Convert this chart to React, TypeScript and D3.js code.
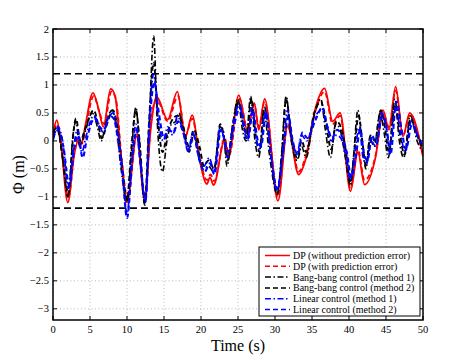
import React from "react";
import * as d3 from "d3";

const W = 461, H = 363;
const M = { left: 53, right: 423, top: 29, bottom: 320 };

const xTicks = [0, 5, 10, 15, 20, 25, 30, 35, 40, 45, 50];
const yTicks = [-3, -2.5, -2, -1.5, -1, -0.5, 0, 0.5, 1, 1.5, 2];
const limits = [1.2, -1.2];

const dpNoErr: [number, number][] = [[0,0.1],[0.5,0.37],[1,0.05],[2.0,-1.1],[2.9,-0.22],[3.4,0.0],[3.8,-0.07],[4.4,0.3],[5.4,0.86],[6.2,0.55],[6.8,0.25],[7.8,0.93],[8.4,0.8],[9.2,-0.3],[10.0,-1.1],[11.3,0.08],[12.4,-1.05],[13.2,0.2],[14.0,0.79],[15.5,0.38],[16.8,0.88],[17.9,0.08],[18.8,0.46],[19.9,-0.4],[20.8,-0.77],[21.2,-0.65],[21.7,-0.79],[23.2,0.02],[23.7,-0.3],[25.1,0.82],[26.3,0.17],[27.2,0.68],[27.8,0.2],[28.6,0.75],[30.4,-1.07],[31.7,0.26],[33.2,-0.6],[34.2,-0.3],[35.5,0.6],[36.7,0.94],[37.8,0.35],[38.8,0.5],[40.2,-0.9],[41.2,-0.2],[42.1,-0.78],[43.6,-0.28],[44.6,0.55],[45.4,0.2],[46.3,0.97],[47.3,0.08],[48.2,0.5],[50,-0.28]];
const dpErr: [number, number][] = [[0,0.05],[0.5,0.3],[1,0.0],[2.1,-1.0],[2.9,-0.2],[3.5,0.05],[3.9,-0.05],[4.5,0.3],[5.5,0.8],[6.3,0.5],[6.9,0.3],[7.9,0.88],[8.5,0.75],[9.3,-0.35],[10.1,-1.05],[11.3,0.15],[12.4,-1.0],[13.2,0.3],[14.0,0.75],[15.5,0.35],[16.9,0.8],[17.9,0.1],[18.8,0.4],[19.9,-0.35],[20.8,-0.7],[21.3,-0.6],[21.8,-0.72],[23.2,0.05],[23.8,-0.25],[25.2,0.75],[26.3,0.2],[27.2,0.65],[27.8,0.25],[28.6,0.7],[30.4,-1.0],[31.7,0.3],[33.2,-0.55],[34.2,-0.25],[35.5,0.55],[36.7,0.88],[37.8,0.3],[38.8,0.45],[40.2,-0.85],[41.2,-0.15],[42.1,-0.7],[43.6,-0.25],[44.6,0.5],[45.4,0.25],[46.3,0.9],[47.3,0.1],[48.2,0.45],[50,-0.25]];
const bang1: [number, number][] = [[0,0.15],[0.6,0.25],[1.2,-0.2],[2.0,-1.0],[2.7,0.1],[3.1,0.35],[3.6,-0.1],[4.2,0.1],[5.3,0.5],[6.0,0.25],[6.5,0.0],[7.2,0.35],[8.0,0.55],[8.6,0.2],[9.2,-0.5],[10.0,-1.1],[10.6,-0.2],[11.2,0.6],[11.6,0.1],[12.4,-1.15],[13.0,0.3],[13.6,1.88],[14.1,0.3],[14.8,-0.55],[15.4,0.0],[16.0,0.3],[16.6,0.35],[17.0,0.5],[17.6,0.2],[18.4,-0.2],[19.0,0.1],[19.7,-0.2],[20.3,-0.5],[21.0,-0.45],[21.7,-0.55],[22.6,0.25],[23.0,0.2],[23.5,-0.45],[24.2,0.2],[25.0,0.75],[25.6,0.2],[26.1,0.0],[26.7,0.8],[27.3,0.0],[27.8,-0.3],[28.5,0.55],[29.2,-0.2],[30.3,-0.95],[30.9,-0.2],[31.5,0.8],[32.2,0.0],[33.0,-0.35],[33.6,-0.1],[34.2,-0.3],[35.2,0.4],[36.2,0.75],[36.8,0.2],[37.5,-0.3],[38.2,0.3],[38.8,0.2],[39.5,-0.3],[40.2,-0.8],[40.6,-0.3],[41.2,0.55],[41.8,-0.1],[42.3,-0.5],[42.8,0.05],[43.4,-0.1],[44.2,0.5],[44.8,0.1],[45.3,-0.3],[46.2,0.75],[46.8,0.0],[47.4,-0.3],[48.3,0.45],[49.2,0.0],[50,-0.2]];
const bang2: [number, number][] = [[0,0.1],[0.6,0.2],[1.3,-0.3],[2.1,-0.95],[2.8,0.2],[3.1,0.4],[3.7,0.0],[4.3,0.2],[5.5,0.55],[6.1,0.3],[6.6,0.05],[7.3,0.3],[8.1,0.55],[8.7,0.25],[9.3,-0.4],[10.0,-1.05],[10.6,-0.1],[11.2,0.55],[11.7,0.0],[12.4,-1.1],[13.0,0.4],[13.6,1.4],[14.2,0.35],[14.8,-0.2],[15.4,0.1],[16.0,0.35],[16.8,0.45],[17.5,0.3],[18.4,-0.1],[19.0,0.2],[19.8,-0.1],[20.4,-0.45],[21.0,-0.35],[21.8,-0.5],[22.6,0.3],[23.0,0.15],[23.6,-0.35],[24.3,0.3],[25.1,0.7],[25.7,0.3],[26.2,0.1],[26.8,0.75],[27.4,0.1],[27.9,-0.2],[28.6,0.6],[29.3,-0.1],[30.3,-0.95],[30.9,-0.3],[31.5,0.75],[32.2,0.1],[33.0,-0.3],[33.6,0.0],[34.2,-0.2],[35.3,0.5],[36.2,0.7],[36.9,0.3],[37.6,-0.15],[38.3,0.35],[38.9,0.25],[39.6,-0.2],[40.2,-0.75],[40.7,-0.2],[41.3,0.45],[41.8,0.0],[42.3,-0.45],[42.9,0.1],[43.5,0.0],[44.3,0.55],[44.9,0.2],[45.4,-0.2],[46.2,0.65],[46.9,0.1],[47.5,-0.25],[48.3,0.4],[49.2,0.1],[50,-0.15]];
const lin1: [number, number][] = [[0,0.0],[0.7,0.25],[1.3,0.0],[2.1,-0.85],[2.8,-0.1],[3.3,0.2],[3.9,-0.2],[4.5,0.1],[5.5,0.45],[6.2,0.3],[6.8,0.15],[7.5,0.4],[8.1,0.5],[8.7,0.2],[9.3,-0.4],[10.0,-1.3],[10.7,-0.3],[11.2,0.3],[11.7,-0.2],[12.5,-1.1],[13.0,0.3],[13.6,1.2],[14.2,0.4],[14.9,0.0],[15.5,0.25],[16.2,0.1],[16.8,0.45],[17.5,0.2],[18.3,-0.2],[18.9,0.15],[19.7,-0.3],[20.4,-0.45],[21.1,-0.3],[21.8,-0.55],[22.6,0.25],[23.0,0.1],[23.6,-0.3],[24.4,0.35],[25.2,0.65],[25.8,0.2],[26.3,0.0],[26.9,0.6],[27.5,0.0],[28.0,-0.15],[28.7,0.55],[29.4,-0.2],[30.3,-0.9],[31.0,-0.3],[31.7,0.55],[32.3,0.0],[33.0,-0.2],[33.6,0.1],[34.3,0.0],[35.3,0.4],[36.3,0.55],[37.0,0.3],[37.6,0.0],[38.3,0.1],[38.9,0.05],[39.6,-0.3],[40.2,-0.7],[40.8,-0.2],[41.4,0.25],[41.9,-0.3],[42.4,-0.4],[43.0,0.0],[43.6,-0.1],[44.4,0.5],[45.0,0.3],[45.5,-0.1],[46.3,0.6],[47.0,0.1],[47.6,-0.2],[48.4,0.35],[49.3,0.1],[50,-0.1]];
const lin2: [number, number][] = [[0,0.05],[0.7,0.2],[1.4,-0.1],[2.2,-0.8],[2.9,-0.1],[3.4,0.1],[4.0,-0.3],[4.6,0.05],[5.6,0.4],[6.3,0.25],[6.9,0.2],[7.6,0.45],[8.2,0.4],[8.8,0.0],[9.4,-0.6],[10.0,-1.38],[10.8,-0.2],[11.3,0.2],[11.8,-0.4],[12.5,-1.05],[13.1,0.4],[13.7,1.05],[14.3,0.5],[15.0,0.05],[15.6,0.2],[16.3,0.15],[16.9,0.35],[17.6,0.15],[18.3,-0.15],[19.0,0.1],[19.8,-0.35],[20.5,-0.55],[21.2,-0.4],[21.8,-0.6],[22.7,0.2],[23.1,0.05],[23.7,-0.2],[24.5,0.3],[25.3,0.6],[25.9,0.25],[26.4,0.05],[27.0,0.55],[27.6,0.05],[28.1,-0.1],[28.8,0.5],[29.5,-0.3],[30.3,-0.85],[31.1,-0.2],[31.8,0.45],[32.4,0.0],[33.1,-0.25],[33.7,0.15],[34.4,0.05],[35.4,0.35],[36.4,0.6],[37.1,0.25],[37.7,0.05],[38.4,0.2],[39.0,0.1],[39.7,-0.2],[40.3,-0.65],[40.9,-0.3],[41.5,0.2],[42.0,-0.2],[42.5,-0.35],[43.1,0.1],[43.7,-0.05],[44.5,0.45],[45.1,0.2],[45.6,-0.25],[46.4,0.7],[47.1,0.2],[47.7,-0.15],[48.5,0.3],[49.4,0.05],[50,-0.1]];

const seriesNames = [
  "DP (without prediction error)",
  "DP (with prediction error)",
  "Bang-bang control (method 1)",
  "Bang-bang control (method 2)",
  "Linear control (method 1)",
  "Linear control (method 2)",
];
const seriesData = [dpNoErr, dpErr, bang1, bang2, lin1, lin2];
const styles = [
  { color: "#ff0000", dash: "", width: 1.8 },
  { color: "#ff0000", dash: "5,3", width: 1.8 },
  { color: "#000000", dash: "6,2.5,1.5,2.5", width: 1.6 },
  { color: "#000000", dash: "5,3", width: 1.9 },
  { color: "#0000ff", dash: "6,2.5,1.5,2.5", width: 1.7 },
  { color: "#0000ff", dash: "5,3", width: 2.1 },
];

const fmt = (v: number) => (v < 0 ? "\u2212" + String(-v) : String(v));

export default function App() {
  const x = d3.scaleLinear().domain([0, 50]).range([M.left, M.right]);
  const y = d3.scaleLinear().domain([-3.2, 2]).range([M.bottom, M.top]);
  const line = d3
    .line<[number, number]>()
    .x((d) => x(d[0]))
    .y((d) => y(d[1]))
    .curve(d3.curveMonotoneX);
  const serif = "'Liberation Serif', 'Times New Roman', serif";
  const lx = 259, ly = 247, lw = 161, lh = 69;
  return (
    <svg width={W} height={H} style={{ position: "absolute", left: 0, top: 0 }} fontFamily={serif}>
      <rect x={0} y={0} width={W} height={H} fill="#fff" />
      <rect x={M.left} y={M.top} width={M.right - M.left} height={M.bottom - M.top} fill="#fff" />
      {xTicks.map((t) => (
        <line key={"gx" + t} x1={x(t)} x2={x(t)} y1={M.top} y2={M.bottom} stroke="#aaa" strokeWidth={0.8} strokeDasharray="1,2.5" />
      ))}
      {yTicks.map((t) => (
        <line key={"gy" + t} x1={M.left} x2={M.right} y1={y(t)} y2={y(t)} stroke="#aaa" strokeWidth={0.8} strokeDasharray="1,2.5" />
      ))}
      <defs>
        <clipPath id="plotclip">
          <rect x={M.left} y={M.top} width={M.right - M.left} height={M.bottom - M.top} />
        </clipPath>
      </defs>
      {limits.map((v) => (
        <line key={"lim" + v} x1={M.left} x2={M.right} y1={y(v)} y2={y(v)} stroke="#000" strokeWidth={1.6} strokeDasharray="7,4" />
      ))}
      <g clipPath="url(#plotclip)">
        {seriesData.map((d, i) => (
          <path key={"s" + i} d={line(d) || ""} fill="none" stroke={styles[i].color} strokeWidth={styles[i].width} strokeDasharray={styles[i].dash} />
        ))}
      </g>
      <rect x={M.left} y={M.top} width={M.right - M.left} height={M.bottom - M.top} fill="none" stroke="#000" strokeWidth={1.5} />
      {xTicks.map((t) => (
        <g key={"xt" + t}>
          <line x1={x(t)} x2={x(t)} y1={M.bottom} y2={M.bottom - 4} stroke="#000" />
          <line x1={x(t)} x2={x(t)} y1={M.top} y2={M.top + 4} stroke="#000" />
          <text x={x(t)} y={M.bottom + 13} fontSize={10.5} textAnchor="middle">{fmt(t)}</text>
        </g>
      ))}
      {yTicks.map((t) => (
        <g key={"yt" + t}>
          <line x1={M.left} x2={M.left + 4} y1={y(t)} y2={y(t)} stroke="#000" />
          <line x1={M.right} x2={M.right - 4} y1={y(t)} y2={y(t)} stroke="#000" />
          <text x={M.left - 4} y={y(t) + 3.5} fontSize={10.5} textAnchor="end">{fmt(t)}</text>
        </g>
      ))}
      <text x={(M.left + M.right) / 2} y={351} fontSize={16} textAnchor="middle">Time (s)</text>
      <text transform={`translate(24,${(M.top + M.bottom) / 2}) rotate(-90)`} fontSize={16} textAnchor="middle">Φ (m)</text>
      <rect x={lx} y={ly} width={lw} height={lh} fill="#fff" stroke="#000" strokeWidth={1} />
      {seriesNames.map((n, i) => {
        const yy = ly + 8.5 + i * 10.8;
        return (
          <g key={"lg" + i}>
            <line x1={lx + 6} x2={lx + 31} y1={yy} y2={yy} stroke={styles[i].color} strokeWidth={1.5} strokeDasharray={styles[i].dash} />
            <text x={lx + 34} y={yy + 3.5} fontSize={10}>{n}</text>
          </g>
        );
      })}
    </svg>
  );
}
